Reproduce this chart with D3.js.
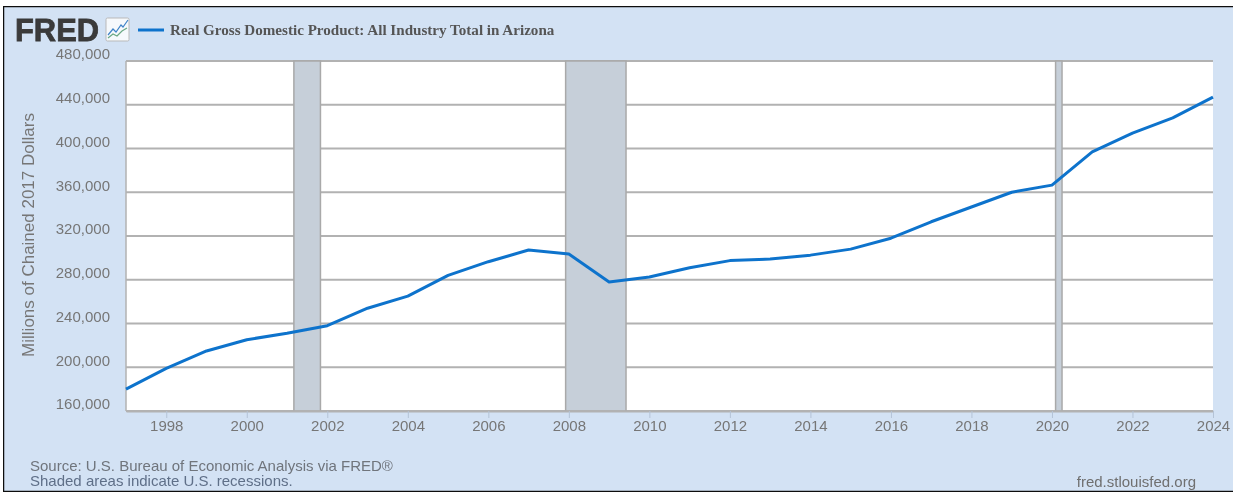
<!DOCTYPE html>
<html>
<head>
<meta charset="utf-8">
<style>
    html, body { margin: 0; padding: 0; background: #fff; }
    svg { display: block; }
    text { font-family: "Liberation Sans", Arial, sans-serif; }
</style>
<script src="https://d3js.org/d3.v7.min.js"></script>
</head>
<body>
<div id="graph"></div>
<script>
    var years = [1997, 1998, 1999, 2000, 2001, 2002, 2003, 2004, 2005, 2006, 2007, 2008, 2009, 2010,
        2011, 2012, 2013, 2014, 2015, 2016, 2017, 2018, 2019, 2020, 2021, 2022, 2023, 2024];
    var gdp = [180000, 199000, 214900, 225200, 231000, 238000, 254000, 265000, 284000, 296500, 307200, 303500, 278000, 282500,
        291000, 297500, 299000, 302500, 308000, 318000, 333000, 346500, 360000, 366500, 397000, 414000, 428000, 447000];
    var recessionStart = [2001.17, 2007.92, 2020.09];
    var recessionEnd = [2001.83, 2009.42, 2020.25];
    var yTicks = [160000, 200000, 240000, 280000, 320000, 360000, 400000, 440000, 480000];
    var xTicks = [1998, 2000, 2002, 2004, 2006, 2008, 2010, 2012, 2014, 2016, 2018, 2020, 2022, 2024];

    var width = 1233, height = 494;
    var margin = { top: 61, right: 20, bottom: 83, left: 126 };

    var svg = d3.select("#graph").append("svg")
        .attr("width", width)
        .attr("height", height);

    // the reference is a soft screenshot, so everything gets a slight blur
    svg.append("defs").append("filter")
        .attr("id", "soft")
        .attr("x", 0).attr("y", 0)
        .attr("width", 1).attr("height", 1)
        .append("feGaussianBlur")
        .attr("stdDeviation", 0.4);

    var chart = svg.append("g").attr("filter", "url(#soft)");

    // background panel and frame
    chart.append("rect")
        .attr("x", 3).attr("y", 6)
        .attr("width", 1232).attr("height", 486)
        .attr("fill", "#d3e2f4")
        .attr("stroke", "#111")
        .attr("stroke-width", 2.5);

    var x = d3.scaleLinear().domain([1997, 2024]).range([margin.left, width - margin.right]);
    var y = d3.scaleLinear().domain([160000, 480000]).range([height - margin.bottom, margin.top]);

    chart.append("rect")
        .attr("x", x(1997)).attr("y", y(480000))
        .attr("width", x(2024) - x(1997)).attr("height", y(160000) - y(480000))
        .attr("fill", "#fff");

    // grid lines
    chart.selectAll(".grid")
        .data(yTicks)
        .enter()
        .append("line")
        .attr("x1", x(1997))
        .attr("x2", x(2024))
        .attr("y1", function (d) { return y(d); })
        .attr("y2", function (d) { return y(d); })
        .attr("stroke", "#b2b2b2")
        .attr("stroke-width", 2);

    // recession bands
    chart.selectAll(".band")
        .data(recessionStart)
        .enter()
        .append("rect")
        .attr("x", function (d) { return x(d); })
        .attr("y", y(480000))
        .attr("width", function (d, i) { return x(recessionEnd[i]) - x(d); })
        .attr("height", y(160000) - y(480000))
        .attr("fill", "#c6cfd9")
        .attr("stroke", "#a9a9a9")
        .attr("stroke-width", 1.5);

    // axes
    var yAxis = chart.append("g")
        .attr("transform", "translate(" + x(1997) + ",0)")
        .call(d3.axisLeft(y).tickValues(yTicks).tickFormat(d3.format(",")).tickSize(0).tickPadding(16));
    yAxis.select(".domain").remove();
    yAxis.selectAll("text")
        .attr("dy", "-0.15em")
        .attr("font-size", 15)
        .attr("fill", "#767676")
        .style("font-family", '"Liberation Sans"');

    chart.append("line")
        .attr("x1", x(1997)).attr("x2", x(1997))
        .attr("y1", y(480000)).attr("y2", y(160000))
        .attr("stroke", "#b2b2b2")
        .attr("stroke-width", 1.5);

    var xAxis = chart.append("g")
        .attr("transform", "translate(0," + y(160000) + ")")
        .call(d3.axisBottom(x).tickValues(xTicks).tickFormat(d3.format("d")).tickSize(7).tickSizeOuter(0).tickPadding(2));
    xAxis.select(".domain").attr("stroke", "#b2b2b2").attr("stroke-width", 2);
    xAxis.selectAll("line").attr("stroke", "#b4c3d6");
    xAxis.selectAll("text")
        .attr("font-size", 15)
        .attr("fill", "#767676")
        .style("font-family", '"Liberation Sans"');

    // series
    var line = d3.line()
        .x(function (d, i) { return x(years[i]); })
        .y(function (d) { return y(d); });

    chart.append("path")
        .datum(gdp)
        .attr("d", line)
        .attr("fill", "none")
        .attr("stroke", "#0f73cc")
        .attr("stroke-width", 3)
        .attr("stroke-linejoin", "round");

    // y axis title
    chart.append("text")
        .attr("transform", "translate(34,235) rotate(-90)")
        .attr("text-anchor", "middle")
        .attr("font-size", 17)
        .attr("fill", "#767676")
        .text("Millions of Chained 2017 Dollars");

    // logo
    chart.append("text")
        .attr("x", 15).attr("y", 41)
        .attr("font-size", 31)
        .attr("font-weight", "bold")
        .attr("fill", "#3a3a3a")
        .attr("stroke", "#3a3a3a")
        .attr("stroke-width", 0.8)
        .attr("textLength", 84)
        .attr("lengthAdjust", "spacingAndGlyphs")
        .text("FRED");

    var icon = chart.append("g").attr("transform", "translate(106,18)");
    icon.append("rect")
        .attr("x", 0).attr("y", 0)
        .attr("width", 23).attr("height", 23)
        .attr("rx", 1.5)
        .attr("fill", "#f6f9fc")
        .attr("stroke", "#b9b9b9");
    var iconA = [[2, 17], [7, 11], [10, 14], [15, 7], [17, 9], [22, 2]];
    var iconB = [[2, 20], [7, 16], [11, 18], [16, 13], [21, 10]];
    icon.append("path").attr("d", d3.line()(iconA)).attr("fill", "none").attr("stroke", "#3f83c8").attr("stroke-width", 1.2);
    icon.append("path").attr("d", d3.line()(iconB)).attr("fill", "none").attr("stroke", "#6aa884").attr("stroke-width", 1.2);

    // legend
    chart.append("line")
        .attr("x1", 138).attr("x2", 164)
        .attr("y1", 30).attr("y2", 30)
        .attr("stroke", "#0f73cc")
        .attr("stroke-width", 3);

    chart.append("text")
        .attr("x", 170).attr("y", 35)
        .attr("font-size", 15.1)
        .attr("font-weight", "bold")
        .attr("fill", "#555")
        .style("font-family", '"Liberation Serif"')
        .text("Real Gross Domestic Product: All Industry Total in Arizona");

    // notes
    chart.append("text")
        .attr("x", 30).attr("y", 471)
        .attr("font-size", 15)
        .attr("fill", "#6f747c")
        .text("Source: U.S. Bureau of Economic Analysis via FRED®");

    chart.append("text")
        .attr("x", 30).attr("y", 486)
        .attr("font-size", 15)
        .attr("fill", "#5f6f88")
        .text("Shaded areas indicate U.S. recessions.");

    chart.append("text")
        .attr("x", 1196).attr("y", 487)
        .attr("text-anchor", "end")
        .attr("font-size", 15)
        .attr("fill", "#6f6f6f")
        .text("fred.stlouisfed.org");
</script>
</body>
</html>
